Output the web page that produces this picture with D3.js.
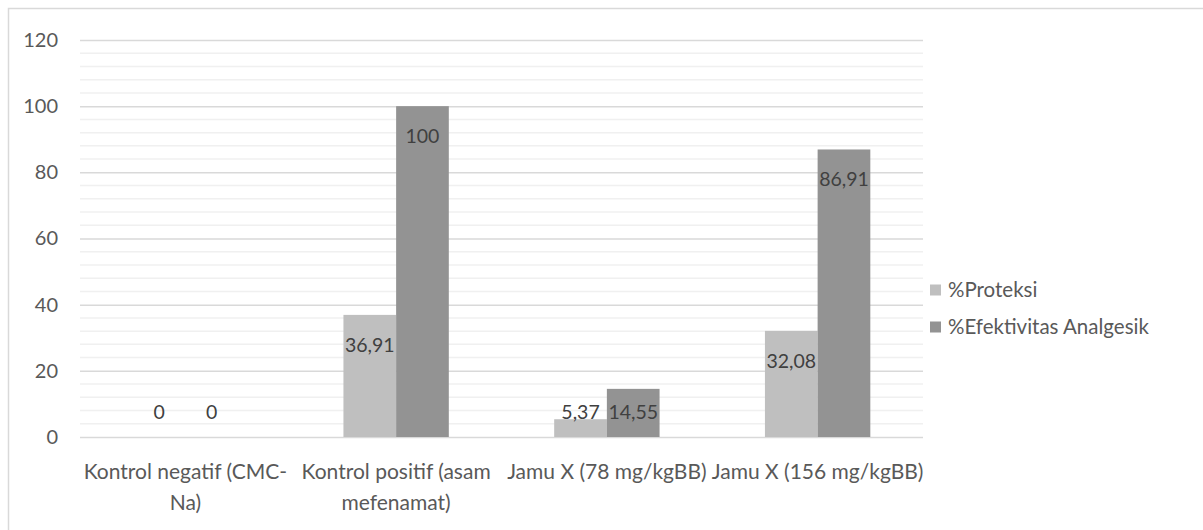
<!DOCTYPE html>
<html><head><meta charset="utf-8">
<script src="https://cdn.jsdelivr.net/npm/d3@7"></script>
<style>body{margin:0;background:#fff}svg{display:block}</style>
</head><body>
<script>
const categories = ["Kontrol negatif (CMC-Na)", "Kontrol positif (asam mefenamat)", "Jamu X (78 mg/kgBB)", "Jamu X (156 mg/kgBB)"];
const categoryLines = [["Kontrol negatif (CMC-", "Na)"], ["Kontrol positif (asam", "mefenamat)"], ["Jamu X (78 mg/kgBB)"], ["Jamu X (156 mg/kgBB)"]];
const seriesNames = ["%Proteksi", "%Efektivitas Analgesik"];
const proteksi = [0, 36.91, 5.37, 32.08];
const efektivitas = [0, 100, 14.55, 86.91];
const yTicks = [0, 20, 40, 60, 80, 100, 120];
const colors = ["#bfbfbf", "#939393"];

const W = 1203, H = 530;
const m = {left: 80, right: 1203 - 923, top: 40, bottom: 530 - 437};
const font = "Lato, 'Open Sans', sans-serif";
const svg = d3.select("body").append("svg").attr("width", W).attr("height", H);
svg.append("rect").attr("x", 8.5).attr("y", 8.5).attr("width", W + 10).attr("height", H + 10)
  .attr("fill", "none").attr("stroke", "#d9d9d9").attr("stroke-width", 1.5);

const y = d3.scaleLinear().domain([0, 120]).range([H - m.bottom, m.top]);
const x0 = d3.scaleBand().domain(categories).range([m.left, W - m.right]).paddingInner(0.5).paddingOuter(0.25);
const x1 = d3.scaleBand().domain(seriesNames).range([0, x0.bandwidth()]);

const g = svg.append("g");
g.selectAll(".minor").data(d3.range(0, 121, 4).filter(v => v % 20 !== 0)).join("line")
  .attr("x1", m.left).attr("x2", W - m.right).attr("y1", d => y(d)).attr("y2", d => y(d))
  .attr("stroke", "#f0f0f0").attr("stroke-width", 1.5);
const yAxis = d3.axisLeft(y).tickValues(yTicks).tickSize(-(W - m.left - m.right)).tickPadding(22);
const ya = g.append("g").attr("transform", `translate(${m.left},0)`).call(yAxis);
ya.select(".domain").remove();
ya.selectAll(".tick line").attr("stroke", "#d9d9d9").attr("stroke-width", 1.5);
ya.selectAll(".tick text").attr("fill", "#595959").style("font-family", font).style("font-size", "20px");

const data = categories.map((c, i) => ({c, vals: [proteksi[i], efektivitas[i]]}));
const groups = g.selectAll(".grp").data(data).join("g").attr("transform", d => `translate(${x0(d.c)},0)`);
groups.selectAll("rect").data(d => d.vals.map((v, j) => ({v, s: seriesNames[j], j}))).join("rect")
  .attr("x", d => x1(d.s)).attr("width", x1.bandwidth())
  .attr("y", d => y(d.v)).attr("height", d => y(0) - y(d.v))
  .attr("fill", d => colors[d.j]);
groups.selectAll("text").data(d => d.vals.map((v, j) => ({v, s: seriesNames[j], j}))).join("text")
  .attr("x", d => x1(d.s) + x1.bandwidth() / 2)
  .attr("y", d => Math.min(y(d.v) + 30, y(0) - 25))
  .attr("dy", "0.35em").attr("text-anchor", "middle")
  .attr("fill", "#404040").style("font-family", font).style("font-size", "19.5px")
  .text(d => String(d.v).replace(".", ",").replace(/,(\d)$/, ",$10"));

const xl = g.selectAll(".cat").data(categories).join("text")
  .attr("text-anchor", "middle").attr("fill", "#595959").style("font-family", font).style("font-size", "21px");
xl.each(function(c, i) {
  const t = d3.select(this);
  categoryLines[i].forEach((ln, k) => t.append("tspan")
    .attr("x", x0(c) + x0.bandwidth() / 2).attr("y", y(0) + 35 + k * 31).attr("dy", "0.35em").text(ln));
});

const lg = svg.append("g").attr("transform", "translate(930,0)");
seriesNames.forEach((s, i) => {
  const cy = 290 + i * 37;
  lg.append("rect").attr("x", 0).attr("y", cy - 5.5).attr("width", 11).attr("height", 11).attr("fill", colors[i]);
  lg.append("text").attr("x", 18).attr("y", cy).attr("dy", "0.35em").attr("fill", "#595959")
    .style("font-family", font).style("font-size", "20.5px").text(s);
});
</script>
</body></html>
